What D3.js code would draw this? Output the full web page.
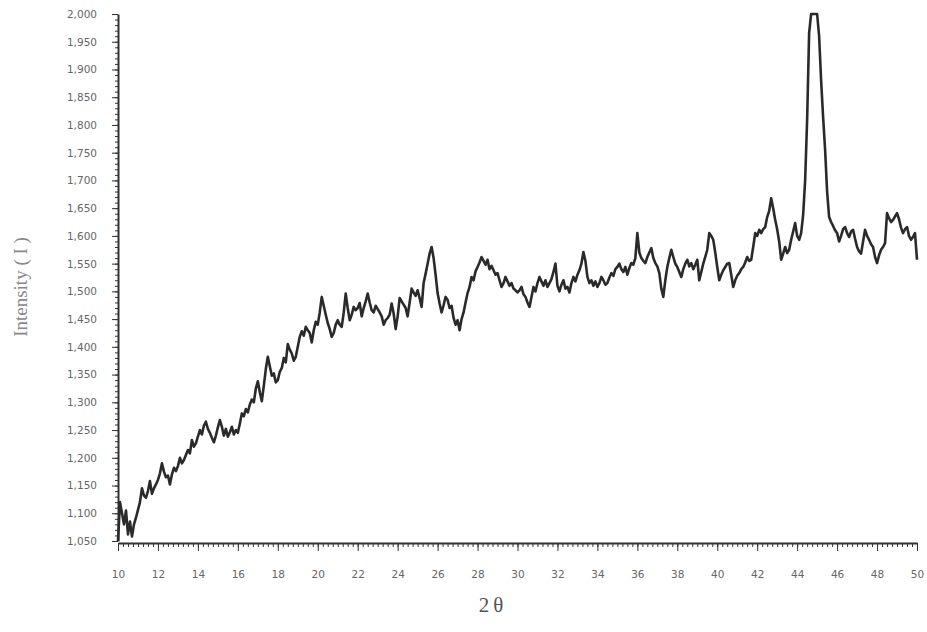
<!DOCTYPE html>
<html lang="en">
<head>
    <meta charset="UTF-8">
    <title>XRD pattern</title>
    <script src="https://d3js.org/d3.v7.min.js"></script>
    <style>
        body { margin: 0; background: #fff; }
        .tick text { font-family: "DejaVu Sans", sans-serif; font-size: 10.5px; fill: #666; }
        .axis path, .axis line { stroke: #333; }
        .trace { fill: none; stroke: #2a2a2a; stroke-width: 2.6px; stroke-linejoin: round; }
    </style>
</head>
<body>
    <svg width="927" height="632"></svg>
    <script>
        // 2theta from 10 to 50 in 0.1 steps, one row per degree
        const twoThetaStart = 10, twoThetaStep = 0.1;
        const intensity = [
            1050, 1120, 1100, 1080, 1105, 1062, 1085, 1058, 1080, 1092,
            1106, 1120, 1145, 1132, 1128, 1140, 1158, 1135, 1145, 1152,
            1160, 1172, 1190, 1175, 1165, 1168, 1152, 1170, 1182, 1176,
            1185, 1200, 1190, 1196, 1205, 1214, 1208, 1232, 1220, 1226,
            1238, 1250, 1242, 1258, 1265, 1252, 1245, 1236, 1228, 1240,
            1255, 1268, 1256, 1240, 1252, 1238, 1246, 1256, 1242, 1250,
            1245, 1262, 1280, 1275, 1288, 1282, 1296, 1305, 1300, 1325,
            1338, 1318, 1302, 1330, 1360, 1382, 1365, 1348, 1352, 1336,
            1340, 1355, 1362, 1380, 1372, 1405, 1395, 1388, 1375, 1382,
            1400, 1418, 1428, 1420, 1436, 1430, 1425, 1408, 1430, 1445,
            1440, 1462, 1490, 1474, 1458, 1443, 1432, 1418, 1425, 1440,
            1448, 1440, 1436, 1462, 1496, 1470, 1448, 1458, 1472, 1466,
            1470, 1479, 1455, 1470, 1482, 1496, 1480, 1466, 1462, 1474,
            1468, 1462, 1455, 1440, 1448, 1452, 1458, 1478, 1460, 1432,
            1455, 1488, 1482, 1476, 1470, 1455, 1480, 1505, 1498, 1492,
            1502, 1488, 1472, 1515, 1532, 1550, 1568, 1580, 1560, 1530,
            1497, 1478, 1462, 1475, 1490, 1485, 1470, 1474, 1452, 1440,
            1448, 1430, 1450, 1462, 1480, 1497, 1508, 1526, 1520, 1536,
            1544, 1552, 1562, 1555, 1548, 1557, 1540, 1546, 1538, 1530,
            1533, 1520, 1508, 1515, 1526, 1518, 1510, 1515, 1505, 1502,
            1498, 1502, 1508, 1495, 1490, 1480, 1472, 1490, 1508, 1500,
            1515, 1526, 1518, 1510, 1520, 1508, 1515, 1522, 1535, 1550,
            1510, 1500, 1512, 1520, 1505, 1508, 1498, 1515, 1526, 1518,
            1530, 1538, 1550, 1571, 1555, 1526, 1515, 1520, 1510, 1518,
            1508, 1515, 1526, 1520, 1512, 1515, 1525, 1533, 1528, 1540,
            1544, 1550, 1540, 1535, 1544, 1530, 1542, 1551, 1548, 1560,
            1605, 1570, 1560, 1555, 1551, 1562, 1570, 1578, 1560, 1551,
            1545, 1533, 1505, 1490, 1520, 1544, 1560, 1575, 1562, 1550,
            1544, 1535, 1526, 1540, 1550, 1557, 1545, 1551, 1540, 1548,
            1557, 1520, 1535, 1550, 1562, 1575, 1605, 1600, 1593, 1570,
            1544, 1520, 1530, 1538, 1544, 1550, 1551, 1530, 1508, 1520,
            1528, 1533, 1540, 1544, 1552, 1562, 1555, 1557, 1580, 1605,
            1600, 1611, 1605, 1612, 1616, 1634, 1645, 1668, 1650, 1629,
            1612, 1590, 1557, 1568, 1580, 1569, 1575, 1593, 1608, 1623,
            1600, 1593, 1605, 1638, 1700, 1810, 1966, 2000, 2000, 2000,
            2000, 1960, 1880, 1814, 1755, 1680, 1634, 1625, 1618, 1610,
            1605, 1590, 1600, 1612, 1616, 1605, 1598, 1608, 1611, 1595,
            1580, 1572, 1568, 1590, 1611, 1600, 1593, 1585, 1580, 1562,
            1551, 1565, 1575, 1580, 1587, 1641, 1632, 1625, 1629, 1635,
            1641, 1630, 1615, 1605, 1612, 1616, 1600, 1593, 1598, 1605,
            1557
        ];

        const xTicks = d3.range(10, 51, 2);
        const yTicks = d3.range(1050, 2001, 50);

        const svg = d3.select("svg");
        const margin = { top: 14, right: 10, bottom: 91, left: 118 };
        const width = 917 - margin.left,
            height = 541 - margin.top;

        const x = d3.scaleLinear().domain([10, 50]).range([0, width]);
        const y = d3.scaleLinear().domain([1050, 2000]).range([height, 0]);

        const g = svg.append("g").attr("transform", `translate(${margin.left},${margin.top})`);

        // minor ticks
        g.append("g")
            .attr("class", "axis")
            .call(d3.axisLeft(y).tickValues(d3.range(1050, 2001, 10)).tickSize(3).tickFormat(""))
            .call(s => s.select(".domain").remove());
        g.append("g")
            .attr("class", "axis")
            .attr("transform", `translate(0,${height + 2})`)
            .call(d3.axisBottom(x).tickValues(d3.range(10, 50.01, 0.25)).tickSize(4).tickFormat(""))
            .call(s => s.select(".domain").remove());

        // major axes
        g.append("g")
            .attr("class", "axis")
            .call(d3.axisLeft(y).tickValues(yTicks).tickSize(6).tickPadding(15)
                .tickSizeOuter(0).tickFormat(d3.format(",")))
            .call(s => s.select(".domain").attr("stroke-width", 2));
        g.append("g")
            .attr("class", "axis")
            .attr("transform", `translate(0,${height + 2})`)
            .call(d3.axisBottom(x).tickValues(xTicks).tickSize(8).tickPadding(20)
                .tickSizeOuter(0).tickFormat(d3.format("d")))
            .call(s => s.select(".domain").attr("stroke-width", 2));

        const data = intensity.map((v, i) => ({ t: twoThetaStart + i * twoThetaStep, v: v }));

        const line = d3.line()
            .x(d => x(d.t))
            .y(d => y(d.v));

        g.append("path")
            .datum(data)
            .attr("class", "trace")
            .attr("d", line);

        // axis titles
        svg.append("text")
            .attr("x", 493)
            .attr("y", 612)
            .attr("text-anchor", "middle")
            .style("font-family", "'Liberation Serif', serif")
            .style("font-size", "21px")
            .style("letter-spacing", "4px")
            .style("fill", "#555")
            .text("2θ");

        svg.append("text")
            .attr("transform", "translate(27,287) rotate(-90)")
            .attr("text-anchor", "middle")
            .style("font-family", "'Liberation Serif', serif")
            .style("font-size", "19px")
            .style("fill", "#888")
            .text("Intensity ( I )");
    </script>
</body>
</html>
